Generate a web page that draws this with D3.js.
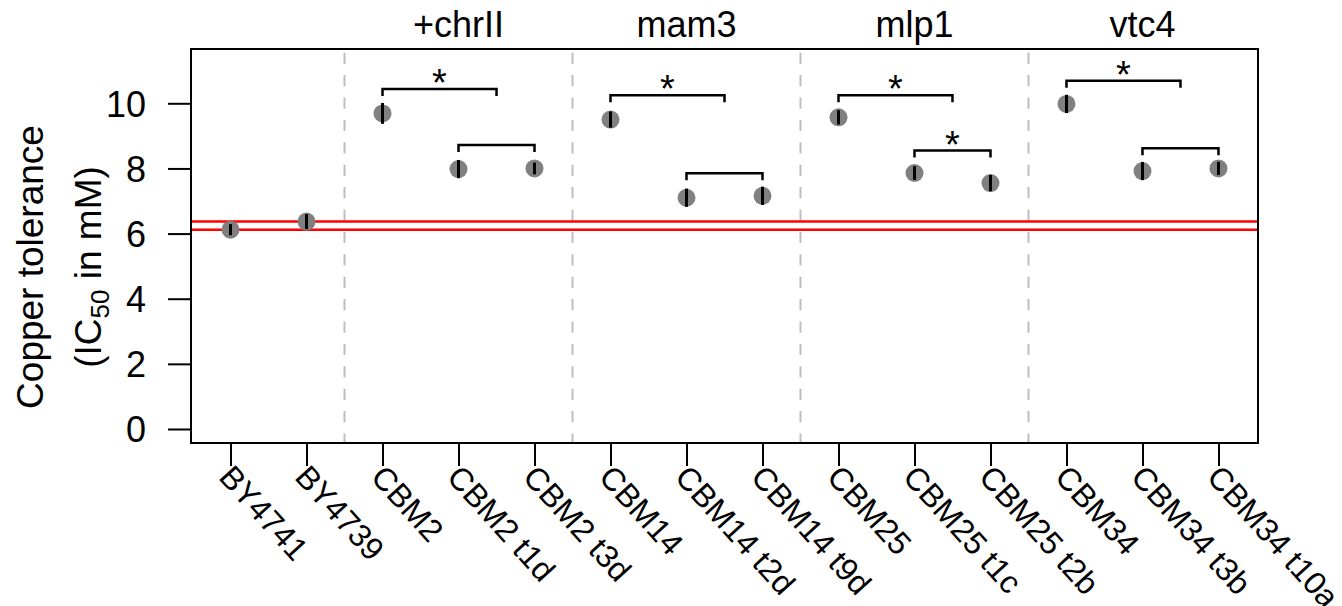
<!DOCTYPE html>
<html>
<head>
<meta charset="utf-8">
<script src="https://cdn.jsdelivr.net/npm/d3@7"></script>
<style>
  html, body { margin: 0; padding: 0; background: #fff; }
  svg { display: block; font-family: "Liberation Sans", Arial, Helvetica, sans-serif; }
</style>
</head>
<body>
<svg id="chart" width="1342" height="606"></svg>
<script>
// Strains (one tick each) and their measured copper tolerance
const strains = ["BY4741", "BY4739", "CBM2", "CBM2 t1d", "CBM2 t3d",
                 "CBM14", "CBM14 t2d", "CBM14 t9d", "CBM25", "CBM25 t1c", "CBM25 t2b",
                 "CBM34", "CBM34 t3b", "CBM34 t10a"];
const ic50   = [6.12, 6.37, 9.69, 7.98, 8.00, 9.50, 7.10, 7.16, 9.57, 7.86, 7.55, 9.98, 7.92, 8.00];
const ic50Sd = [0.17, 0.23, 0.32, 0.28, 0.18, 0.25, 0.28, 0.28, 0.22, 0.21, 0.25, 0.28, 0.28, 0.20];

// Reference strains whose tolerance is drawn as horizontal red lines
const referenceStrains = ["BY4741", "BY4739"];

// Groups of derived strains: title, first and last strain position (1-based)
const groupTitles = ["+chrII", "mam3", "mlp1", "vtc4"];
const groupStart  = [3, 6, 9, 12];
const groupEnd    = [5, 8, 11, 14];

// Comparison brackets: left / right position, height (mM), significance
const bracketFrom = [3, 4, 6, 7, 9, 10, 12, 13];
const bracketTo   = [4.5, 5, 7.5, 8, 10.5, 11, 13.5, 14];
const bracketY    = [10.44, 8.72, 10.25, 7.85, 10.25, 8.55, 10.69, 8.62];
const bracketSig  = [true, false, true, false, true, true, true, false];

const yTicks = [0, 2, 4, 6, 8, 10];

const svg = d3.select("#chart");
const plotLeft = 191, plotRight = 1258, plotTop = 49, plotBottom = 443;
const fontSize = 36;       // titles and y tick labels
const yTitleSize = 37;     // y axis title
const xLabelSize = 32;     // rotated strain labels
const starSize = 38;

const x = d3.scaleLinear().domain([0.48, 14.52]).range([plotLeft, plotRight]);
const y = d3.scaleLinear().domain([-0.43, 11.667]).range([plotBottom, plotTop]);
const pos = i => x(i + 1);

// Group separators
const separators = groupStart.map(s => s - 0.5);
svg.append("g").selectAll("line").data(separators).join("line")
  .attr("x1", d => x(d)).attr("x2", d => x(d))
  .attr("y1", plotTop).attr("y2", plotBottom)
  .attr("stroke", "#bebebe").attr("stroke-width", 2)
  .attr("stroke-dasharray", "11.2,11.2").attr("stroke-dashoffset", 18.7);

// Reference lines
const refValues = referenceStrains.map(s => ic50[strains.indexOf(s)]);
svg.append("g").selectAll("line").data(refValues).join("line")
  .attr("x1", plotLeft).attr("x2", plotRight)
  .attr("y1", d => y(d)).attr("y2", d => y(d))
  .attr("stroke", "#ff0000").attr("stroke-width", 2.5);

// Points with error bars
const pts = svg.append("g");
pts.selectAll("circle").data(ic50).join("circle")
  .attr("cx", (d, i) => pos(i)).attr("cy", d => y(d))
  .attr("r", 9).attr("fill", "#808080");
pts.selectAll("line").data(ic50).join("line")
  .attr("x1", (d, i) => pos(i)).attr("x2", (d, i) => pos(i))
  .attr("y1", (d, i) => y(d - ic50Sd[i])).attr("y2", (d, i) => y(d + ic50Sd[i]))
  .attr("stroke", "#000").attr("stroke-width", 3);

// Brackets and significance stars
const br = svg.append("g");
const tickDrop = 7;
bracketY.forEach((v, i) => {
  const x1 = x(bracketFrom[i]), x2 = x(bracketTo[i]), yy = y(v);
  br.append("path")
    .attr("d", `M${x1},${yy + tickDrop}V${yy}H${x2}V${yy + tickDrop}`)
    .attr("fill", "none").attr("stroke", "#000").attr("stroke-width", 2.5);
  if (bracketSig[i]) {
    br.append("text")
      .attr("x", (x1 + x2) / 2).attr("y", yy + 7)
      .attr("text-anchor", "middle").attr("font-size", starSize)
      .text("*");
  }
});

// Plot frame
svg.append("rect")
  .attr("x", plotLeft).attr("y", plotTop)
  .attr("width", plotRight - plotLeft).attr("height", plotBottom - plotTop)
  .attr("fill", "none").attr("stroke", "#000").attr("stroke-width", 2);

// Y axis
const yAxis = svg.append("g").attr("transform", `translate(${plotLeft},0)`)
  .call(d3.axisLeft(y).tickValues(yTicks).tickSize(23).tickPadding(22).tickFormat(d3.format("d")));
yAxis.select(".domain").remove();
yAxis.selectAll(".tick line").attr("stroke", "#000").attr("stroke-width", 2);
yAxis.selectAll(".tick text").attr("font-size", fontSize).attr("font-family", null)
  .attr("fill", "#000").attr("dy", "0.36em");

// X axis ticks and rotated labels
const xAxis = svg.append("g").attr("transform", `translate(0,${plotBottom})`)
  .call(d3.axisBottom(x).tickValues(d3.range(1, strains.length + 1)).tickSize(23).tickFormat(""));
xAxis.select(".domain").remove();
xAxis.selectAll(".tick line").attr("stroke", "#000").attr("stroke-width", 2);

svg.append("g").selectAll("text").data(strains).join("text")
  .attr("transform", (d, i) => `translate(${pos(i) - 13},478) rotate(48)`)
  .attr("font-size", xLabelSize)
  .text(d => d);

// Group titles
svg.append("g").selectAll("text").data(groupTitles).join("text")
  .attr("x", (d, i) => x((groupStart[i] + groupEnd[i]) / 2)).attr("y", 37)
  .attr("text-anchor", "middle").attr("font-size", fontSize)
  .text(d => d);

// Y axis title
const yt = svg.append("g");
yt.append("text")
  .attr("transform", "translate(43,267) rotate(-90)")
  .attr("text-anchor", "middle").attr("font-size", yTitleSize)
  .text("Copper tolerance");
const t2 = yt.append("text")
  .attr("transform", "translate(101,267) rotate(-90)")
  .attr("text-anchor", "middle").attr("font-size", yTitleSize);
t2.append("tspan").text("(IC");
t2.append("tspan").attr("font-size", 26).attr("dy", 8).text("50");
t2.append("tspan").attr("dy", -8).text(" in mM)");
</script>
</body>
</html>
